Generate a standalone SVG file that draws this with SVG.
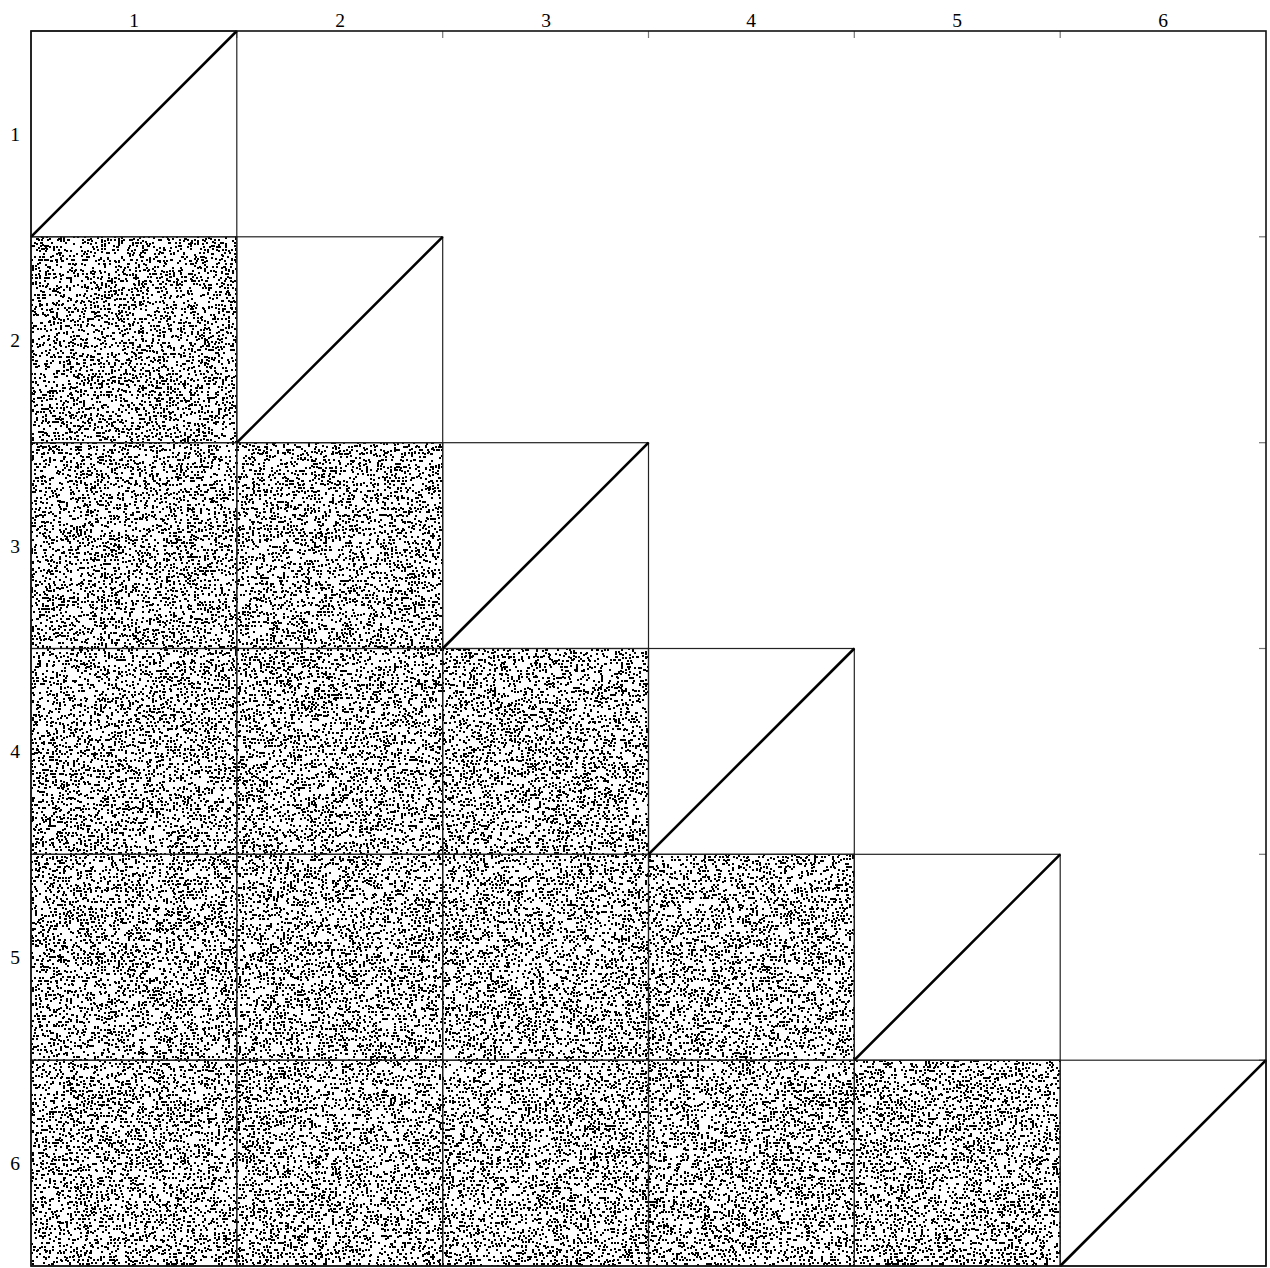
<svg xmlns="http://www.w3.org/2000/svg" width="1270" height="1268" viewBox="0 0 1270 1268">
<defs>
<style>
.lbl{font-family:"Liberation Serif","DejaVu Serif",serif;font-size:19.5px;fill:#000;text-anchor:middle}
.cell{fill:none;stroke:#222;stroke-width:1.2}
.diag{stroke:#000;stroke-width:2.6;fill:none}
.tick{stroke:#777;stroke-width:1.2}
.sp{fill:#fff;filter:url(#speck)}
</style>
<filter id="speck" x="0" y="0" width="1" height="1" filterUnits="objectBoundingBox" color-interpolation-filters="sRGB">
<feTurbulence type="fractalNoise" baseFrequency="0.71" numOctaves="1" seed="11"/>
<feColorMatrix type="matrix" values="0 0 0 0 0  0 0 0 0 0  0 0 0 0 0  12 0 0 0 -7.5"/>
<feComponentTransfer><feFuncA type="discrete" tableValues="0 1"/></feComponentTransfer>
<feConvolveMatrix order="2" kernelMatrix="1 1 1 1" divisor="1" edgeMode="none"/>
</filter>
</defs>
<rect width="1270" height="1268" fill="#fff"/>
<g id="labels">
<text class="lbl" x="134" y="27">1</text><text class="lbl" x="340" y="27">2</text><text class="lbl" x="546" y="27">3</text><text class="lbl" x="751" y="27">4</text><text class="lbl" x="957" y="27">5</text><text class="lbl" x="1163" y="27">6</text>
<text class="lbl" x="15" y="141">1</text><text class="lbl" x="15" y="347">2</text><text class="lbl" x="15" y="553">3</text><text class="lbl" x="15" y="758">4</text><text class="lbl" x="15" y="964">5</text><text class="lbl" x="15" y="1170">6</text>
</g>
<g id="ticks">
<line class="tick" x1="236.8" y1="31" x2="236.8" y2="38"/><line class="tick" x1="442.7" y1="31" x2="442.7" y2="38"/><line class="tick" x1="648.5" y1="31" x2="648.5" y2="38"/><line class="tick" x1="854.3" y1="31" x2="854.3" y2="38"/><line class="tick" x1="1060.2" y1="31" x2="1060.2" y2="38"/>
<line class="tick" x1="1266" y1="236.8" x2="1259" y2="236.8"/><line class="tick" x1="1266" y1="442.7" x2="1259" y2="442.7"/><line class="tick" x1="1266" y1="648.5" x2="1259" y2="648.5"/><line class="tick" x1="1266" y1="854.3" x2="1259" y2="854.3"/><line class="tick" x1="1266" y1="1060.2" x2="1259" y2="1060.2"/>
</g>
<g id="scatter-cells">
<g id="c21"><rect class="sp" x="31" y="236.8" width="205.8" height="205.9"/><rect class="cell" x="31" y="236.8" width="205.8" height="205.9"/></g>
<g id="c31"><rect class="sp" x="31" y="442.7" width="205.8" height="205.8"/><rect class="cell" x="31" y="442.7" width="205.8" height="205.8"/></g>
<g id="c32"><rect class="sp" x="236.8" y="442.7" width="205.9" height="205.8"/><rect class="cell" x="236.8" y="442.7" width="205.9" height="205.8"/></g>
<g id="c41"><rect class="sp" x="31" y="648.5" width="205.8" height="205.8"/><rect class="cell" x="31" y="648.5" width="205.8" height="205.8"/></g>
<g id="c42"><rect class="sp" x="236.8" y="648.5" width="205.9" height="205.8"/><rect class="cell" x="236.8" y="648.5" width="205.9" height="205.8"/></g>
<g id="c43"><rect class="sp" x="442.7" y="648.5" width="205.8" height="205.8"/><rect class="cell" x="442.7" y="648.5" width="205.8" height="205.8"/></g>
<g id="c51"><rect class="sp" x="31" y="854.3" width="205.8" height="205.9"/><rect class="cell" x="31" y="854.3" width="205.8" height="205.9"/></g>
<g id="c52"><rect class="sp" x="236.8" y="854.3" width="205.9" height="205.9"/><rect class="cell" x="236.8" y="854.3" width="205.9" height="205.9"/></g>
<g id="c53"><rect class="sp" x="442.7" y="854.3" width="205.8" height="205.9"/><rect class="cell" x="442.7" y="854.3" width="205.8" height="205.9"/></g>
<g id="c54"><rect class="sp" x="648.5" y="854.3" width="205.8" height="205.9"/><rect class="cell" x="648.5" y="854.3" width="205.8" height="205.9"/></g>
<g id="c61"><rect class="sp" x="31" y="1060.2" width="205.8" height="205.8"/><rect class="cell" x="31" y="1060.2" width="205.8" height="205.8"/></g>
<g id="c62"><rect class="sp" x="236.8" y="1060.2" width="205.9" height="205.8"/><rect class="cell" x="236.8" y="1060.2" width="205.9" height="205.8"/></g>
<g id="c63"><rect class="sp" x="442.7" y="1060.2" width="205.8" height="205.8"/><rect class="cell" x="442.7" y="1060.2" width="205.8" height="205.8"/></g>
<g id="c64"><rect class="sp" x="648.5" y="1060.2" width="205.8" height="205.8"/><rect class="cell" x="648.5" y="1060.2" width="205.8" height="205.8"/></g>
<g id="c65"><rect class="sp" x="854.3" y="1060.2" width="205.9" height="205.8"/><rect class="cell" x="854.3" y="1060.2" width="205.9" height="205.8"/></g>
</g>
<g id="diagonal-cells">
<g id="c11"><rect class="cell" x="31" y="31" width="205.8" height="205.8"/><line class="diag" x1="31" y1="236.8" x2="236.8" y2="31"/></g>
<g id="c22"><rect class="cell" x="236.8" y="236.8" width="205.9" height="205.9"/><line class="diag" x1="236.8" y1="442.7" x2="442.7" y2="236.8"/></g>
<g id="c33"><rect class="cell" x="442.7" y="442.7" width="205.8" height="205.8"/><line class="diag" x1="442.7" y1="648.5" x2="648.5" y2="442.7"/></g>
<g id="c44"><rect class="cell" x="648.5" y="648.5" width="205.8" height="205.8"/><line class="diag" x1="648.5" y1="854.3" x2="854.3" y2="648.5"/></g>
<g id="c55"><rect class="cell" x="854.3" y="854.3" width="205.9" height="205.9"/><line class="diag" x1="854.3" y1="1060.2" x2="1060.2" y2="854.3"/></g>
<g id="c66"><rect class="cell" x="1060.2" y="1060.2" width="205.8" height="205.8"/><line class="diag" x1="1060.2" y1="1266" x2="1266" y2="1060.2"/></g>
</g>
<g id="frame"><rect x="31" y="31" width="1235" height="1235" fill="none" stroke="#111" stroke-width="1.6"/></g>
</svg>
